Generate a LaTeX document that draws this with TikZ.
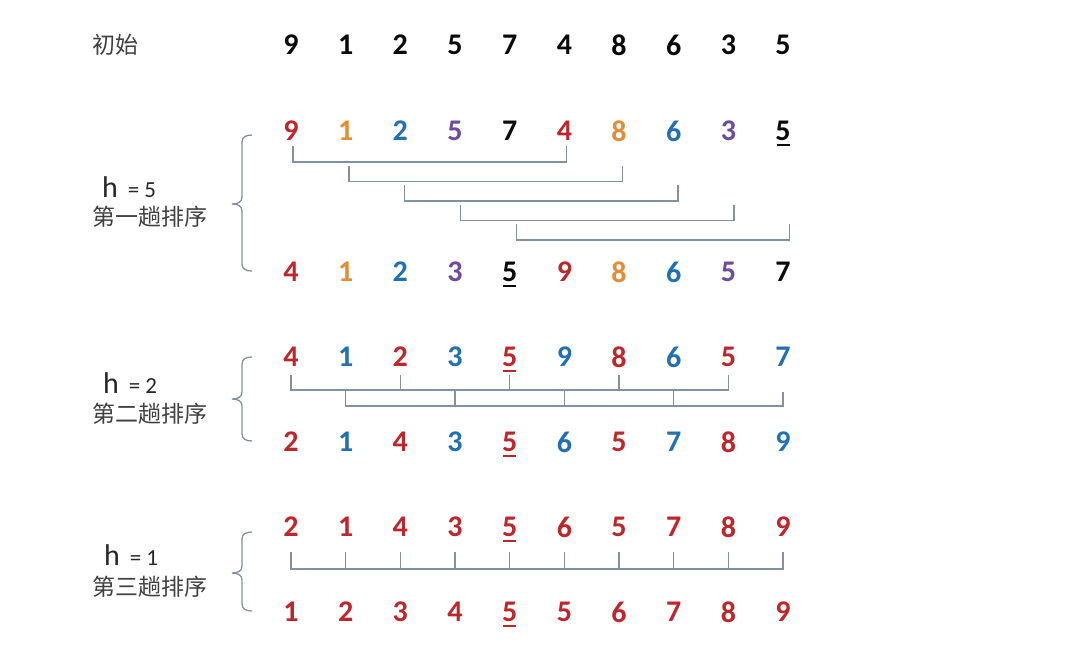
\documentclass[tikz,border=0pt]{standalone}
\usepackage{fontspec}
\setmainfont{Carlito}
\newfontfamily\cjk{Noto Sans CJK SC}
\definecolor{cred}{RGB}{190,38,44}
\definecolor{corg}{RGB}{228,140,54}
\definecolor{cblu}{RGB}{32,112,178}
\definecolor{cpur}{RGB}{112,74,160}
\definecolor{cblk}{RGB}{10,10,10}
\definecolor{cline}{RGB}{128,145,162}
\definecolor{ctext}{RGB}{64,64,64}
\newcommand\shellbrace[3]{%
  \draw[lk] (252,#1) .. controls (246,#1) and (242,{#1+2}) .. (242,{#1+7})
    -- (242,{#2-7}) .. controls (242,{#2-2}) and (238,#2) .. (232,#2)
    .. controls (238,#2) and (242,{#2+2}) .. (242,{#2+7})
    -- (242,{#3-7}) .. controls (242,{#3-2}) and (246,#3) .. (252,#3);}
\newcommand\hlabtext[1]{{\fontsize{30}{30}\selectfont h}\hspace{10pt}{\fontsize{23}{23}\selectfont=\hspace{5pt}#1}}
\begin{document}
\begin{tikzpicture}[x=1pt,y=-1pt,
  dig/.style={font=\fontsize{30}{30}\selectfont\bfseries, inner sep=0pt, anchor=center},
  lk/.style={draw=cline, line width=1.3pt},
  cjklab/.style={font=\cjk\fontsize{23}{23}\selectfont, text=ctext, inner sep=0pt, anchor=west},
  hlab/.style={text=ctext!60!black, inner sep=0pt, anchor=base west},
  uline/.style={line width=2pt}]
\useasboundingbox (0,0) rectangle (1073,646);
\fill[white] (0,0) rectangle (1073,646);

% labels
\node[cjklab] (init) at (92,45) {初始};
\node[hlab] (h1) at (102,197) {\hlabtext{5}};
\node[cjklab] (p1) at (92,217) {第一趟排序};
\node[hlab] (h2) at (103,393) {\hlabtext{2}};
\node[cjklab] (p2) at (92,414) {第二趟排序};
\node[hlab] (h3) at (104,565) {\hlabtext{1}};
\node[cjklab] (p3) at (92,587) {第三趟排序};

% braces
\shellbrace{135}{204}{271}
\shellbrace{357}{399}{441}
\shellbrace{532}{573}{611}

% rows of digits
\newcommand\digrow[3]{%
  \foreach \d/\c/\u [count=\i from 0] in {#3} {
    \node[dig, text=\c] (#1-\i) at ({291+54.67*\i}, #2) {\d};
    \ifnum\u=1 \draw[\c, uline] ([xshift=-6.5pt,yshift=-14pt]#1-\i.center) -- ++(13pt,0); \fi
  }}
\digrow{r0}{45}{9/cblk/0,1/cblk/0,2/cblk/0,5/cblk/0,7/cblk/0,4/cblk/0,8/cblk/0,6/cblk/0,3/cblk/0,5/cblk/0}
\digrow{a1}{131}{9/cred/0,1/corg/0,2/cblu/0,5/cpur/0,7/cblk/0,4/cred/0,8/corg/0,6/cblu/0,3/cpur/0,5/cblk/1}
\digrow{b1}{272}{4/cred/0,1/corg/0,2/cblu/0,3/cpur/0,5/cblk/1,9/cred/0,8/corg/0,6/cblu/0,5/cpur/0,7/cblk/0}
\digrow{a2}{357}{4/cred/0,1/cblu/0,2/cred/0,3/cblu/0,5/cred/1,9/cblu/0,8/cred/0,6/cblu/0,5/cred/0,7/cblu/0}
\digrow{b2}{442}{2/cred/0,1/cblu/0,4/cred/0,3/cblu/0,5/cred/1,6/cblu/0,5/cred/0,7/cblu/0,8/cred/0,9/cblu/0}
\digrow{a3}{527}{2/cred/0,1/cred/0,4/cred/0,3/cred/0,5/cred/1,6/cred/0,5/cred/0,7/cred/0,8/cred/0,9/cred/0}
\digrow{b3}{612}{1/cred/0,2/cred/0,3/cred/0,4/cred/0,5/cred/1,5/cred/0,6/cred/0,7/cred/0,8/cred/0,9/cred/0}

% pass 1 brackets (h = 5)
\foreach \k in {0,...,4} {
  \pgfmathtruncatemacro\j{\k+5}
  \draw[lk] ([xshift={2+1.2*\k},yshift={-(15+19.5*\k)}]a1-\k.center) -- ++(0,16)
     -| ([xshift={2+1.2*\k},yshift={-(15+19.5*\k)}]a1-\j.center);
}

% pass 2 brackets (h = 2)
\draw[lk] ([yshift=-18]a2-0.center) |- ([yshift=-33]a2-8.center) -- ([yshift=-18]a2-8.center);
\foreach \i in {2,4,6} \draw[lk] ([yshift=-18]a2-\i.center) -- ([yshift=-33]a2-\i.center);
\draw[lk] ([yshift=-33]a2-1.center) |- ([yshift=-49]a2-9.center) -- ([yshift=-35]a2-9.center);
\foreach \i in {3,5,7} \draw[lk] ([yshift=-33]a2-\i.center) -- ([yshift=-49]a2-\i.center);

% pass 3 bracket (h = 1)
\draw[lk] ([yshift=-25]a3-0.center) |- ([yshift=-42]a3-9.center) -- ([yshift=-25]a3-9.center);
\foreach \i in {1,...,8} \draw[lk] ([yshift=-25]a3-\i.center) -- ([yshift=-42]a3-\i.center);
\end{tikzpicture}
\end{document}
